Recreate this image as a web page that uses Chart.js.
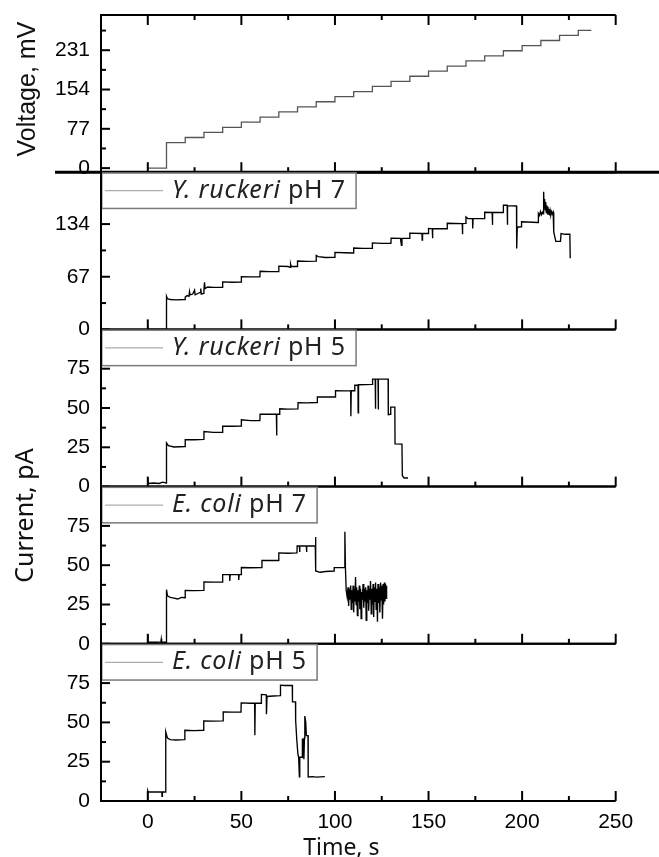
<!DOCTYPE html>
<html><head><meta charset="utf-8">
<script src="https://cdn.jsdelivr.net/npm/chart.js@4.4.1/dist/chart.umd.min.js"></script>
<style>html,body{margin:0;padding:0;background:#fff;}canvas{display:block;}</style>
</head><body>
<canvas id="c" width="659" height="857"></canvas>
<script>
// ---- tick labels ----
const xTicks = [0, 50, 100, 150, 200, 250];
const xMinorTicks = [25, 75, 125, 175, 225];
const voltageTicks = [0, 77, 154, 231];
const voltageMinorTicks = [38.5, 115.5, 192.5, 269.5];
const yr7Ticks = [0, 67, 134];
const yr7MinorTicks = [33.5, 100.5, 167.5];
const pATicks = [0, 25, 50, 75];
const pAMinorTicks = [12.5, 37.5, 62.5, 87.5];

// ---- voltage protocol (mV) ----
const voltTimes  = [0, 10, 20, 30, 40, 50, 60, 70, 80, 90, 100, 110, 120, 130, 140, 150, 160, 170, 180, 190, 200, 210, 220, 230, 237];
const voltLevels = [0, 50, 60, 70, 80, 90, 100, 110, 120, 130, 140, 150, 160, 170, 180, 190, 200, 210, 220, 230, 240, 250, 260, 270, 270];

// ---- current traces (time s, current pA) ----
const yruckeriPH7 = [
 [0,0],[0,4],[0.2,0],[9.9,0],
 [10,42],[10.5,39],[12,38],[15,37.5],[19.9,38],
 [20,41],[21,43],[22,42],[22.3,48],[22.6,44],[24,45],[25,50],[25.3,44],[27,46],[28,47],[28.3,52],[28.6,45],[29.9,46],
 [30,50],[30.3,60],[30.6,52],[32,54],[35,53.5],[39.9,53.5],
 [40,60.5],[45,60],[49.9,60.3],
 [50,67],[55,66.8],[59.9,67],
 [60,74],[65,73.5],[69.9,73.5],
 [70,80.5],[75,80],[76,79],[76.3,83],[76.6,80],[79.9,80],
 [80,87],[85,86.5],[89.9,86.8],
 [90,94],[91,92.5],[95,91.5],[99.9,91.8],
 [100,98],[105,97.5],[109.9,97.2],
 [110,103.5],[115,103],[119.9,103],
 [120,110],[125,109.5],[129.9,109.5],
 [130,116],[135,115.8],[135.5,107],[135.8,115.8],[139.9,116],
 [140,122.5],[146.5,122],[146.6,113.8],[146.8,122],[149.9,122],
 [150,128.5],[152,128],[152.1,116],[152.3,128],[159.9,128],
 [160,135],[168,134.5],[168.1,121],[168.3,134.5],[169.9,134.8],
 [170,143],[171,141],[173.5,141],[173.6,128.5],[173.8,141],[179.9,141],
 [180,149],[184,148.7],[184.1,133],[184.3,148.7],[189.9,148.7],
 [190,158],[192,158],[192.1,133],[192.3,157.5],[197,157],
 [197.1,103],[197.4,130],[199.5,130.6],[199.7,137],[208.5,136],
 [208.7,147.5],[209.3,145],[209.8,150],[210.3,146],[210.8,149],[211.2,147],[211.5,175],[211.7,158],[212,166],[212.3,152],[212.6,162],[212.9,149],[213.2,158],[213.5,147],[213.8,156],[214.1,146],[214.4,153],[214.7,145],[215,151],[215.4,146],[215.8,150],[216.2,147],[216.6,149],
 [216.9,124],[218,112],[220.5,112],[220.8,122],[223,121],[225.5,121],[225.7,90.6]
];
const yruckeriPH5 = [
 [0,0],[0,5.8],[0.2,2],[3,2.3],[6,2],[8,2.8],[9.9,2.2],
 [10,27.8],[11,26],[14,25.2],[19.9,25.5],
 [20,29.9],[25,29.8],[29.9,30],
 [30,35],[35,34.5],[39.9,34.5],
 [40,38.5],[45,38.4],[49.9,38.5],
 [50,42.5],[55,42],[59.9,42],
 [60,46],[68.7,46],[68.8,32.5],[69,46],[70.4,46],
 [70.5,49.5],[75,49.3],[80.2,49.4],
 [80.3,53.4],[85,53.3],[90.5,53.5],
 [90.6,57],[95,57],[100.2,57],
 [100.3,61],[105,60.9],[108.4,61],[108.5,44.7],[108.7,61],[110.5,61],
 [110.6,64.5],[112.3,64.5],[112.4,47],[112.6,64.8],[120,65],
 [120.1,68.4],[121.5,68.4],[121.6,49.6],[121.8,68.4],[123,68.4],[123.1,49],[123.3,68.4],[128.4,68.4],
 [128.5,45.8],[129.7,46],[129.8,50.6],[132,50.6],
 [132.1,27.2],[135.8,27],
 [136,6.9],[137,5.5],[139,5.5]
];
const ecoliPH7 = [
 [0,0],[0,5.9],[0.2,1],[5,1],[7,1.2],[7.2,3],[7.4,1],[9.9,1],
 [10,34.4],[10.5,30.5],[12,29.5],[14,29],[16,28.5],[18,29.5],[19.9,29.3],
 [20,34],[25,33.8],[29.9,34],
 [30,39.3],[35,39.2],[39.9,39.3],
 [40,44],[43.7,44],[43.8,40],[44,44],[48.5,44],[48.6,40.6],[48.8,44],[49.9,44],
 [50,48.5],[55,48.4],[60.9,48.5],
 [61,53.1],[65,53],[69.9,53],
 [70,57.8],[75,57.6],[79.7,57.8],
 [79.8,62.2],[81,62.2],[81.1,58.4],[81.3,62.2],[84.7,62.2],[84.8,58.4],[85,62.2],[89.5,62.2],
 [89.6,68],[89.8,46.3],[92,45.5],[95,46],[99.5,46.3],
 [99.6,48.5],[103,48.5],[105.2,48.5],
 [105.3,71.2],[105.6,48],[106,34],
 [106.5,30],[107,36],[107.3,24],[107.6,35],[108,28],[108.4,37],[108.7,22],[109,34],[109.4,26],[109.7,37],[110,20],[110.3,35],[110.7,27],[111,42.5],[111.3,25],[111.6,36],[112,18],[112.3,34],[112.7,27],[113,37],[113.3,22],[113.7,35],[114,16],[114.3,33],[114.7,28],[115,38],[115.4,23],[115.7,35],[116,27],[116.4,36],[116.7,15],[117,34],[117.4,26],[117.7,37],[118,21],[118.4,35],[118.7,28],[119,40],[119.4,19],[119.7,35],[120,25],[120.4,38],[120.7,17],[121,36],[121.4,27],[121.7,39],[122,22],[122.4,35],[122.7,14],[123,38],[123.4,26],[123.7,36],[124,20],[124.4,39],[124.7,28],[125,37],[125.4,16],[125.7,38],[126,25],[126.4,39],[126.7,27],[127,38],[127.3,29],[127.6,37]
];
const ecoliPH5 = [
 [0,0],[0,6.4],[0.2,5.7],[5,5.7],[7.5,5.7],[7.6,3],[7.8,5.7],[9.5,5.7],
 [9.6,44],[10.5,40],[12,39],[15,38.8],[19.7,39],
 [19.8,45],[25,44.8],[29.8,45],
 [29.9,51],[35,50.8],[40.2,51],
 [40.3,56.7],[45,56.5],[49.8,56.5],
 [49.9,62.4],[55,62.2],[57.1,62.2],[57.2,41.8],[57.4,62.2],[60.6,62.2],
 [60.7,67.8],[63.3,67.5],[63.4,55.2],[63.7,66.5],[67,66.8],[70.8,67],
 [70.9,73.7],[73,73.5],[77.2,73.5],
 [77.3,63.1],[78.9,63.1],
 [79,51.4],[79.6,39],[80.2,30],[80.6,27.8],[81,15.3],[81.2,27.8],[82.5,27.8],
 [82.6,39.3],[83.2,39.5],[83.4,26.5],[83.7,40],[83.9,54],[84.4,50],[84.7,41.6],[85.6,41.6],
 [85.7,15.3],[88,15.5],[90,15.2],[94.6,15.5]
];

const legendItalic = ['Y. ruckeri', 'Y. ruckeri', 'E. coli', 'E. coli'];
const legendNormal = [' pH 7', ' pH 5', ' pH 7', ' pH 5'];

const panels = [
  {id:'yV',  min:-8, max:300, ticks:voltageTicks, minor:voltageMinorTicks, weight:5},
  {id:'yC1', min:0, max:200, ticks:yr7Ticks, minor:yr7MinorTicks, weight:4},
  {id:'yC2', min:0, max:100, ticks:pATicks, minor:pAMinorTicks, weight:3},
  {id:'yC3', min:0, max:100, ticks:pATicks, minor:pAMinorTicks, weight:2},
  {id:'yC4', min:0, max:100, ticks:pATicks, minor:pAMinorTicks, weight:1}
];
const currentSeries = [yruckeriPH7, yruckeriPH5, ecoliPH7, ecoliPH5];

const TICK_FONT = {family:'"Liberation Sans", Arial, sans-serif', size:21};

const scales = {
  x: {
    type:'linear', min:-25, max:250,
    grid:{display:false, drawTicks:false}, border:{display:false},
    ticks:{font:TICK_FONT, color:'#000', padding:9, autoSkip:false, maxRotation:0},
    afterBuildTicks: s => { s.ticks = xTicks.map(v => ({value:v})); },
    afterFit: s => { s.height = 56; }
  }
};
panels.forEach(p => {
  scales[p.id] = {
    type:'linear', position:'left', stack:'panels', stackWeight:1, weight:p.weight,
    min:p.min, max:p.max,
    grid:{display:false, drawTicks:false}, border:{display:false},
    ticks:{font:TICK_FONT, color:'#000', padding:11, autoSkip:false},
    afterBuildTicks: s => { s.ticks = p.ticks.map(v => ({value:v})); },
    afterFit: s => { s.width = 101; s.paddingTop = 0; s.paddingBottom = 0; }
  };
});

const datasets = [{
  label:'Voltage', yAxisID:'yV',
  data: voltTimes.map((t, i) => ({x:t, y:voltLevels[i]})),
  stepped:true, borderColor:'#555', borderWidth:1.3, pointRadius:0, showLine:true, fill:false
}];
currentSeries.forEach((s, i) => {
  datasets.push({
    label: legendItalic[i] + legendNormal[i], yAxisID: panels[i+1].id,
    data: s.map(d => ({x:d[0], y:d[1]})),
    borderColor:'#000', borderWidth:1.35, pointRadius:0, showLine:true, fill:false, tension:0
  });
});

function seg(ctx, x1, y1, x2, y2){ ctx.beginPath(); ctx.moveTo(x1,y1); ctx.lineTo(x2,y2); ctx.stroke(); }

const LEG_SIZE = 25;
const deco = {
  id:'deco',
  afterDraw(chart){
    const ctx = chart.ctx, a = chart.chartArea, xs = chart.scales.x;
    ctx.save();
    ctx.strokeStyle = '#000'; ctx.lineCap = 'butt';
    panels.forEach((p, i) => {
      const s = chart.scales[p.id];
      ctx.lineWidth = 2;
      p.ticks.forEach(v => { const y = s.getPixelForValue(v); seg(ctx, a.left, y, a.left + 9, y); });
      p.minor.forEach(v => { const y = s.getPixelForValue(v); seg(ctx, a.left, y, a.left + 5, y); });
      xTicks.forEach(v => { const x = xs.getPixelForValue(v); seg(ctx, x, s.bottom, x, s.bottom - 10); });
      xMinorTicks.forEach(v => { const x = xs.getPixelForValue(v); seg(ctx, x, s.bottom, x, s.bottom - 5); });
      if (i === 0) {
        xTicks.forEach(v => { const x = xs.getPixelForValue(v); seg(ctx, x, s.top, x, s.top + 10); });
        xMinorTicks.forEach(v => { const x = xs.getPixelForValue(v); seg(ctx, x, s.top, x, s.top + 5); });
      }
      seg(ctx, a.left - 1, s.top, a.right, s.top);
      seg(ctx, a.left - 1, s.bottom, a.right, s.bottom);
    });
    ctx.lineWidth = 2;
    seg(ctx, a.left, a.top, a.left, a.bottom);
    // thick separator under the voltage panel
    const top = chart.scales.yV;
    ctx.lineWidth = 3;
    seg(ctx, 55, top.bottom, chart.width, top.bottom);

    // legends
    for (let i = 0; i < 4; i++) {
      const s = chart.scales[panels[i+1].id];
      const t = s.top;
      ctx.letterSpacing = '0.8px';
      ctx.font = 'italic ' + LEG_SIZE + 'px "Noto Sans"';
      const w1 = ctx.measureText(legendItalic[i]).width;
      ctx.font = LEG_SIZE + 'px "Noto Sans"';
      const w2 = ctx.measureText(legendNormal[i]).width;
      const w = 71 + w1 + w2 + 11, h = 37;
      ctx.fillStyle = '#fff';
      ctx.fillRect(a.left + 1, t + 1, w - 1, h - 1);
      ctx.strokeStyle = '#7a7a7a'; ctx.lineWidth = 1.5;
      ctx.strokeRect(a.left + 0.75, t + 0.75, w - 1.5, h - 1.5);
      ctx.strokeStyle = '#999'; ctx.lineWidth = 1;
      seg(ctx, a.left + 4, t + 18.5, a.left + 62, t + 18.5);
      ctx.fillStyle = '#222'; ctx.textBaseline = 'alphabetic'; ctx.textAlign = 'left';
      ctx.font = 'italic ' + LEG_SIZE + 'px "Noto Sans"';
      ctx.fillText(legendItalic[i], a.left + 71, t + 25.5);
      ctx.font = LEG_SIZE + 'px "Noto Sans"';
      ctx.fillText(legendNormal[i], a.left + 71 + w1, t + 25.5);
      ctx.letterSpacing = '0px';
    }
    // re-draw left axis line over legends
    ctx.strokeStyle = '#000'; ctx.lineWidth = 2;
    seg(ctx, a.left, a.top, a.left, a.bottom);

    // axis titles
    ctx.fillStyle = '#111'; ctx.textAlign = 'center'; ctx.textBaseline = 'alphabetic';
    ctx.save();
    ctx.translate(35, (top.top + top.bottom) / 2 - 4.5);
    ctx.rotate(-Math.PI / 2);
    ctx.font = '25px "Liberation Sans", Arial, sans-serif';
    ctx.fillText('Voltage, mV', 0, 0);
    ctx.restore();
    ctx.save();
    const c2 = chart.scales.yC2, c3 = chart.scales.yC3;
    ctx.translate(33, (c2.bottom + c3.top) / 2 + 29);
    ctx.rotate(-Math.PI / 2);
    ctx.font = '25px "Noto Sans"';
    ctx.fillText('Current, pA', 0, 0);
    ctx.restore();
    ctx.font = '23px "Noto Sans"';
    ctx.fillText('Time, s', (a.left + a.right) / 2 - 17, chart.height - 2);
    ctx.restore();
  }
};

new Chart(document.getElementById('c'), {
  type:'scatter',
  data:{datasets},
  options:{
    responsive:false, animation:false, devicePixelRatio:1,
    layout:{padding:{left:0, top:15, right:43.3, bottom:0}},
    plugins:{legend:{display:false}, tooltip:{enabled:false}, title:{display:false}},
    scales
  },
  plugins:[deco]
});
</script>
</body></html>
